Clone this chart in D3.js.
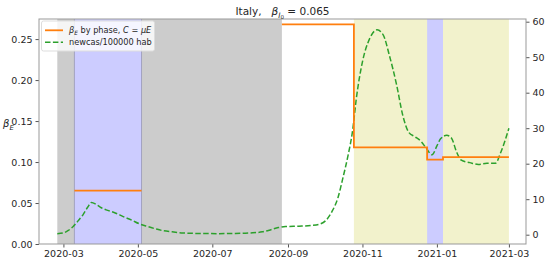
<!DOCTYPE html>
<html>
<head>
<meta charset="utf-8">
<script src="https://cdn.jsdelivr.net/npm/d3@7"></script>
<style>
  body { margin: 0; background: #fff; }
  svg text { font-family: "DejaVu Sans", sans-serif; fill: #262626; white-space: pre; }
</style>
</head>
<body>
<div id="chart"></div>
<script>
// phases of the model (start / end / beta value)
const phaseStart = ["2020-03-10", "2020-08-27", "2020-10-25", "2020-12-24", "2021-01-06"]
const phaseEnd   = ["2020-05-04", "2020-10-25", "2020-12-24", "2021-01-06", "2021-03-01"]
const phaseBeta  = [0.065, 0.268, 0.1178, 0.103, 0.106]

// shaded periods behind the lines
const spanStart = ["2020-02-25", "2020-03-10", "2020-10-25", "2020-12-24"]
const spanEnd   = ["2020-08-27", "2020-05-04", "2021-03-01", "2021-01-06"]
const spanColor = ["#cccccc", "#ccccff", "#f2f2cc", "#ccccff"]

// new cases per 100000 inhabitants (right axis)
const caseDates = ["2020-02-25","2020-03-01","2020-03-05","2020-03-09","2020-03-13","2020-03-17","2020-03-21","2020-03-24",
  "2020-03-28","2020-04-01","2020-04-05","2020-04-12","2020-04-19","2020-04-26","2020-05-02","2020-05-08","2020-05-15",
  "2020-05-22","2020-05-29","2020-06-07","2020-06-20","2020-07-05","2020-07-20","2020-08-01","2020-08-11","2020-08-18",
  "2020-08-24","2020-08-30","2020-09-10","2020-09-20","2020-09-27","2020-10-02","2020-10-07","2020-10-12","2020-10-16",
  "2020-10-20","2020-10-24","2020-10-27","2020-11-01","2020-11-07","2020-11-13","2020-11-18","2020-11-23","2020-11-29",
  "2020-12-04","2020-12-09","2020-12-14","2020-12-19","2020-12-23","2020-12-28","2021-01-01","2021-01-04","2021-01-09",
  "2021-01-13","2021-01-17","2021-01-21","2021-01-28","2021-02-04","2021-02-11","2021-02-18","2021-02-22","2021-02-26","2021-03-01"]
const caseValues = [0.3,0.5,1.2,2.3,3.9,5.6,7.8,9.1,
  8.5,7.6,7.0,6.2,5.1,4.1,3.1,2.4,1.7,
  1.1,0.8,0.5,0.35,0.3,0.35,0.5,0.8,1.4,
  2.0,2.3,2.4,2.6,3.0,4.0,6.5,10.5,16.0,
  22.0,29.5,38.4,48.7,55.3,57.7,56.3,50.6,42.2,
  33.7,28.8,27.6,26.3,24.5,22.5,25.0,27.0,28.0,
  27.2,23.4,21.0,20.3,19.8,20.1,20.1,22.9,26.7,30.0]

// tick values
const xTicks = ["2020-03-01","2020-05-01","2020-07-01","2020-09-01","2020-11-01","2021-01-01","2021-03-01"]
const leftTicks = [0, 0.05, 0.10, 0.15, 0.20, 0.25]
const rightTicks = [0, 10, 20, 30, 40, 50, 60]

const width = 550
const height = 263
const margin = {top: 19, right: 24, bottom: 19, left: 39}
const parse = d3.timeParse("%Y-%m-%d")

const svg = d3.select('div#chart').append('svg').attr('width', width).attr('height', height)

//scales
const xScale = d3.scaleTime()
  .domain([parse("2020-02-10"), parse("2021-03-15")])
  .range([margin.left, width - margin.right])
const yScale = d3.scaleLinear()
  .domain([0, 0.2745])
  .range([height - margin.bottom, margin.top])
const y2Scale = d3.scaleLinear()
  .domain([-2.62, 60.76])
  .range([height - margin.bottom, margin.top])

//shaded spans
svg.selectAll('rect.span').data(spanStart)
  .enter().append('rect')
  .attr('class', 'span')
  .attr('x', (d, i) => xScale(parse(d)))
  .attr('width', (d, i) => xScale(parse(spanEnd[i])) - xScale(parse(d)))
  .attr('y', margin.top)
  .attr('height', height - margin.bottom - margin.top)
  .attr('fill', (d, i) => spanColor[i])
// the first blue span has thin edges over the gray
svg.selectAll('line.edge').data([spanStart[1], spanEnd[1]])
  .enter().append('line')
  .attr('x1', d => xScale(parse(d))).attr('x2', d => xScale(parse(d)))
  .attr('y1', margin.top).attr('y2', height - margin.bottom)
  .attr('stroke', '#a3a3c0').attr('stroke-width', 1)

//green dashed line on the right axis
const caseLine = d3.line()
  .x((d, i) => xScale(parse(caseDates[i])))
  .y(d => y2Scale(d))
  .curve(d3.curveMonotoneX)
svg.append('path')
  .attr('d', caseLine(caseValues))
  .attr('fill', 'none')
  .attr('stroke', '#2ca02c')
  .attr('stroke-width', 1.5)
  .attr('stroke-dasharray', '5.5,2.4')

//orange step line, phases that touch are joined with a vertical
let pts = []
const groups = []
phaseStart.forEach((s, i) => {
  if (i > 0 && phaseEnd[i - 1] !== s) { groups.push(pts); pts = [] }
  pts.push([xScale(parse(s)), yScale(phaseBeta[i])])
  pts.push([xScale(parse(phaseEnd[i])), yScale(phaseBeta[i])])
})
groups.push(pts)
svg.selectAll('path.phase').data(groups)
  .enter().append('path')
  .attr('class', 'phase')
  .attr('d', d => d3.line()(d))
  .attr('fill', 'none')
  .attr('stroke', '#ff7f0e')
  .attr('stroke-width', 1.8)

//axes
const xAxis = d3.axisBottom(xScale).tickValues(xTicks.map(parse)).tickFormat(d3.timeFormat('%Y-%m')).tickSize(3.5).tickPadding(3)
const yAxis = d3.axisLeft(yScale).tickValues(leftTicks).tickFormat(d3.format('.2f')).tickSize(3.5).tickPadding(3)
const y2Axis = d3.axisRight(y2Scale).tickValues(rightTicks).tickSize(3.5).tickPadding(3)
svg.append('g').attr('class', 'axis')
  .attr('transform', 'translate(0 ' + (height - margin.bottom) + ')')
  .call(xAxis)
svg.append('g').attr('class', 'axis')
  .attr('transform', 'translate(' + margin.left + ' 0)')
  .call(yAxis)
svg.append('g').attr('class', 'axis')
  .attr('transform', 'translate(' + (width - margin.right) + ' 0)')
  .call(y2Axis)
svg.selectAll('.axis .domain').remove()
svg.selectAll('.axis text').attr('font-size', 9.5).attr('font-family', '"DejaVu Sans", sans-serif').attr('fill', '#262626')
svg.selectAll('.axis line').attr('stroke', '#555')

//frame around the plot
svg.append('rect')
  .attr('x', margin.left).attr('y', margin.top)
  .attr('width', width - margin.left - margin.right)
  .attr('height', height - margin.top - margin.bottom)
  .attr('fill', 'none').attr('stroke', '#999').attr('stroke-width', 1)

//title with math
const title = svg.append('text').attr('x', (margin.left + width - margin.right) / 2).attr('y', 15)
  .attr('text-anchor', 'middle').attr('font-size', 10.5)
title.append('tspan').text('Italy,\u00a0\u00a0\u00a0')
title.append('tspan').attr('font-style', 'italic').text('β')
title.append('tspan').attr('font-style', 'italic').attr('font-size', 7.5).attr('dy', 2.5).text('I')
title.append('tspan').attr('font-size', 5.5).attr('dy', 1.5).text('0')
title.append('tspan').attr('dy', -4).text('\u00a0= 0.065')

//y label
const ylab = svg.append('text').attr('x', 3).attr('y', 127).attr('font-size', 10)
ylab.append('tspan').attr('font-style', 'italic').text('β')
ylab.append('tspan').attr('font-style', 'italic').attr('font-size', 7).attr('dy', 2.5).text('E')

//legend
const legend = svg.append('g')
legend.append('rect')
  .attr('x', 41.5).attr('y', 21).attr('width', 113).attr('height', 30).attr('rx', 2)
  .attr('fill', 'rgba(255,255,255,0.8)').attr('stroke', '#ddd')
legend.append('line').attr('x1', 45).attr('x2', 63).attr('y1', 30.3).attr('y2', 30.3)
  .attr('stroke', '#ff7f0e').attr('stroke-width', 1.8)
legend.append('line').attr('x1', 45).attr('x2', 63).attr('y1', 42.3).attr('y2', 42.3)
  .attr('stroke', '#2ca02c').attr('stroke-width', 1.5).attr('stroke-dasharray', '5.5,2.4')
const l1 = legend.append('text').attr('x', 69).attr('y', 33.3).attr('font-size', 8.2)
l1.append('tspan').attr('font-style', 'italic').text('β')
l1.append('tspan').attr('font-style', 'italic').attr('font-size', 5.8).attr('dy', 2).text('E')
l1.append('tspan').attr('dy', -2).text('\u00a0by phase,\u00a0')
l1.append('tspan').attr('font-style', 'italic').text('C')
l1.append('tspan').text('\u00a0=\u00a0')
l1.append('tspan').attr('font-style', 'italic').text('μE')
legend.append('text').attr('x', 69).attr('y', 45.3).attr('font-size', 8.2).text('newcas/100000 hab')
</script>
</body>
</html>
